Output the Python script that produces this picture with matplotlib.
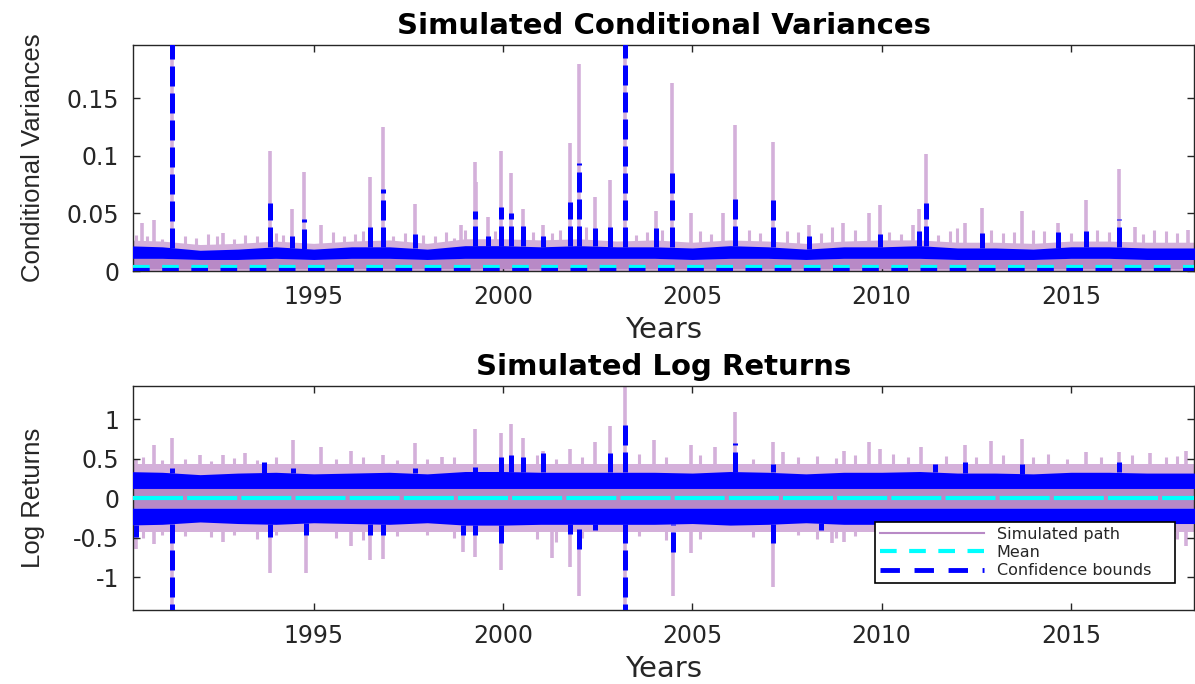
import numpy as np
import matplotlib
matplotlib.use("Agg")
import matplotlib.pyplot as plt
from matplotlib.lines import Line2D

# ---- data ----
band_years = np.arange(1990, 2020)

# conditional variances: dense band (per year)
var_blue_top = [0.022, 0.021, 0.018, 0.019, 0.021, 0.019, 0.021, 0.021, 0.019, 0.022,
                0.022, 0.021, 0.022, 0.021, 0.021, 0.020, 0.022, 0.021, 0.019, 0.021,
                0.021, 0.022, 0.020, 0.020, 0.019, 0.021, 0.021, 0.020, 0.020, 0.020]
var_blue_bot = [0.011, 0.011, 0.010, 0.010, 0.011, 0.010, 0.011, 0.011, 0.010, 0.011,
                0.011, 0.011, 0.011, 0.011, 0.011, 0.010, 0.011, 0.011, 0.010, 0.011,
                0.011, 0.011, 0.010, 0.010, 0.010, 0.011, 0.011, 0.010, 0.010, 0.010]
var_halo_top = [0.027, 0.026, 0.023, 0.024, 0.026, 0.024, 0.026, 0.027, 0.024, 0.028,
                0.028, 0.027, 0.028, 0.026, 0.027, 0.025, 0.027, 0.026, 0.024, 0.026,
                0.027, 0.027, 0.025, 0.025, 0.024, 0.026, 0.026, 0.025, 0.025, 0.025]
var_mean = 0.0036
var_lower = 0.0013

var_path_years = [1990.46, 1990.78, 1991.25, 1992.6, 1993.84, 1994.43, 1994.74, 1995.2,
                  1996.5, 1996.83, 1997.67, 1998.9, 1999.25, 1999.3, 1999.6, 1999.96,
                  2000.22, 2000.53, 2001.05, 2001.76, 2002.02, 2002.42, 2002.83, 2003.23,
                  2004.04, 2004.47, 2004.97, 2005.8, 2006.13, 2007.12, 2008.09, 2008.97,
                  2009.67, 2009.96, 2010.83, 2010.99, 2011.17, 2012.2, 2012.66, 2013.7,
                  2014.65, 2015.4, 2016.26, 2016.7, 2018.1]
var_path_vals = [0.042, 0.044, 0.30, 0.033, 0.104, 0.054, 0.086, 0.040,
                 0.082, 0.125, 0.058, 0.040, 0.095, 0.077, 0.047, 0.104,
                 0.085, 0.054, 0.040, 0.111, 0.180, 0.064, 0.079, 0.30,
                 0.052, 0.163, 0.050, 0.050, 0.127, 0.112, 0.040, 0.042,
                 0.050, 0.057, 0.040, 0.054, 0.102, 0.042, 0.055, 0.052,
                 0.042, 0.062, 0.089, 0.038, 0.036]
var_bound_years = [1991.25, 1993.84, 1994.43, 1994.74, 1996.5, 1996.83, 1997.67, 1999.25,
                   1999.6, 1999.96, 2000.22, 2000.53, 2001.05, 2001.76, 2002.02, 2002.42,
                   2002.83, 2003.23, 2004.04, 2004.47, 2006.13, 2007.12, 2008.09, 2009.96,
                   2010.99, 2011.17, 2012.66, 2014.65, 2015.4, 2016.26]
var_bound_vals = [0.30, 0.059, 0.030, 0.045, 0.040, 0.071, 0.032, 0.052,
                  0.030, 0.056, 0.050, 0.041, 0.030, 0.060, 0.094, 0.037,
                  0.044, 0.30, 0.037, 0.085, 0.066, 0.062, 0.030, 0.032,
                  0.035, 0.059, 0.033, 0.034, 0.035, 0.045]
var_minor_years = [1990.3, 1990.6, 1991.0, 1991.6, 1991.9, 1992.2, 1992.45, 1992.9, 1993.2,
                   1993.5, 1994.0, 1994.2, 1995.5, 1995.8, 1996.1, 1996.3, 1997.1, 1997.4,
                   1997.9, 1998.2, 1998.5, 1998.7, 1999.0, 1999.8, 2000.8, 2001.3, 2001.5,
                   2002.2, 2003.5, 2003.8, 2004.2, 2005.2, 2005.5, 2006.5, 2006.8, 2007.5,
                   2007.8, 2008.4, 2008.7, 2009.3, 2010.2, 2010.5, 2011.5, 2011.8, 2012.0,
                   2012.9, 2013.2, 2013.5, 2014.0, 2014.3, 2015.0, 2015.7, 2016.0, 2016.9,
                   2017.2, 2017.5, 2017.8]
var_minor_vals = [0.031, 0.030, 0.028, 0.030, 0.029, 0.032, 0.030, 0.028, 0.031,
                  0.030, 0.033, 0.031, 0.034, 0.030, 0.032, 0.035, 0.030, 0.033,
                  0.031, 0.030, 0.034, 0.029, 0.036, 0.035, 0.034, 0.033, 0.036,
                  0.038, 0.031, 0.034, 0.036, 0.035, 0.032, 0.036, 0.033, 0.035,
                  0.034, 0.033, 0.038, 0.036, 0.034, 0.032, 0.031, 0.035, 0.037,
                  0.036, 0.033, 0.034, 0.036, 0.035, 0.033, 0.036, 0.034, 0.032,
                  0.036, 0.035, 0.033]

# log returns: dense band (per year)
ret_blue_up = [0.34, 0.33, 0.30, 0.32, 0.33, 0.31, 0.32, 0.33, 0.31, 0.34,
               0.34, 0.33, 0.33, 0.33, 0.33, 0.32, 0.34, 0.33, 0.31, 0.33,
               0.33, 0.34, 0.32, 0.32, 0.31, 0.33, 0.33, 0.32, 0.32, 0.32]
ret_blue_dn = [-0.34, -0.33, -0.30, -0.32, -0.33, -0.31, -0.32, -0.33, -0.31, -0.34,
               -0.34, -0.33, -0.33, -0.33, -0.33, -0.32, -0.34, -0.33, -0.31, -0.33,
               -0.33, -0.34, -0.32, -0.32, -0.31, -0.33, -0.33, -0.32, -0.32, -0.32]
ret_core = 0.125
ret_halo = 0.43
ret_mean = 0.0

ret_up_years = [1990.3, 1990.78, 1991.25, 1992.0, 1992.6, 1993.2, 1994.46, 1995.2, 1996.0,
                1996.83, 1997.67, 1998.4, 1999.25, 1999.96, 2000.22, 2000.53, 2001.07,
                2001.76, 2002.42, 2002.83, 2003.23, 2004.0, 2004.97, 2005.6, 2006.14,
                2007.12, 2007.4, 2009.0, 2009.67, 2009.96, 2011.04, 2012.2, 2012.9,
                2013.7, 2015.4, 2016.26, 2017.1, 2018.05]
ret_up_vals = [0.50, 0.67, 0.76, 0.55, 0.55, 0.58, 0.74, 0.65, 0.60,
               0.55, 0.70, 0.53, 0.876, 0.83, 0.94, 0.77, 0.60,
               0.63, 0.72, 0.92, 1.6, 0.74, 0.67, 0.65, 1.10,
               0.72, 0.59, 0.60, 0.72, 0.63, 0.65, 0.67, 0.73,
               0.75, 0.59, 0.59, 0.57, 0.60]
ret_upb_years = [1991.25, 1993.7, 1994.46, 1997.67, 1999.25, 1999.96, 2000.22, 2000.53,
                 2001.07, 2002.83, 2003.23, 2006.14, 2007.12, 2011.4, 2012.2, 2013.7, 2016.26]
ret_upb_vals = [0.38, 0.46, 0.38, 0.38, 0.40, 0.53, 0.55, 0.53,
                0.57, 0.57, 0.99, 0.70, 0.44, 0.44, 0.46, 0.44, 0.46]
ret_dn_years = [1990.3, 1990.78, 1991.25, 1992.6, 1993.84, 1994.79, 1996.0, 1996.5, 1996.83,
                1998.94, 1999.25, 1999.96, 2001.3, 2001.76, 2002.02, 2003.23, 2004.48,
                2004.97, 2007.12, 2008.7, 2009.0, 2018.05]
ret_dn_vals = [-0.64, -0.58, -1.6, -0.55, -0.944, -0.944, -0.60, -0.78, -0.775,
               -0.68, -0.74, -0.91, -0.76, -0.87, -1.24, -1.6, -1.24,
               -0.70, -1.12, -0.57, -0.55, -0.60]
ret_dnb_years = [1990.3, 1991.25, 1993.84, 1994.79, 1996.5, 1996.83, 1998.94, 1999.25,
                 1999.96, 2001.76, 2002.02, 2002.42, 2003.23, 2004.48, 2007.12, 2008.4]
ret_dnb_vals = [-0.49, -1.6, -0.49, -0.47, -0.47, -0.47, -0.46, -0.47,
                -0.57, -0.45, -0.64, -0.40, -1.6, -0.68, -0.57, -0.40]
ret_minor_years = [1990.5, 1991.0, 1991.6, 1992.3, 1992.9, 1993.5, 1994.0, 1995.6, 1996.3,
                   1997.2, 1998.0, 1998.7, 2000.9, 2001.4, 2002.1, 2003.6, 2004.3, 2005.2,
                   2006.6, 2007.8, 2008.3, 2008.8, 2009.3, 2010.3, 2010.7, 2011.7, 2012.5,
                   2013.2, 2014.0, 2014.4, 2014.9, 2015.8, 2016.6, 2017.5, 2017.8]
ret_minor_up = [0.52, 0.48, 0.50, 0.47, 0.51, 0.49, 0.53, 0.50, 0.52,
                0.48, 0.50, 0.52, 0.55, 0.50, 0.53, 0.56, 0.52, 0.55,
                0.50, 0.52, 0.54, 0.51, 0.55, 0.56, 0.52, 0.54, 0.53,
                0.55, 0.52, 0.56, 0.50, 0.53, 0.55, 0.52, 0.54]
ret_minor_dn = [-0.50, -0.46, -0.48, -0.49, -0.46, -0.52, -0.47, -0.50, -0.53,
                -0.48, -0.47, -0.50, -0.52, -0.55, -0.50, -0.48, -0.53, -0.51,
                -0.49, -0.47, -0.52, -0.50, -0.48, -0.46, -0.50, -0.48, -0.47,
                -0.49, -0.46, -0.48, -0.47, -0.50, -0.46, -0.49, -0.52]

x_ticks = [1995, 2000, 2005, 2010, 2015]

# ---- styles ----
PURPLE = '#b889c6'
PURPLE_LIGHT = '#d4b0da'
BLUE = '#0000ff'
CYAN = '#00ffff'
DARK = '#262626'
DASH = (0, (4, 1.4))

plt.rcParams['font.family'] = 'DejaVu Sans'

fig = plt.figure(figsize=(11.95, 6.84), dpi=100)
ax1 = fig.add_axes([0.1113, 0.6038, 0.8879, 0.3304])
ax2 = fig.add_axes([0.1113, 0.1082, 0.8879, 0.3275])

# ---- top: conditional variances ----
ax1.fill_between(band_years, 0, var_halo_top, color=PURPLE_LIGHT, lw=0, zorder=1)
ax1.vlines(var_minor_years, 0, var_minor_vals, color=PURPLE_LIGHT, lw=2.2, zorder=1)
ax1.vlines(var_path_years, 0, var_path_vals, color=PURPLE_LIGHT, lw=2.6, zorder=1)
ax1.fill_between(band_years, 0.002, var_blue_bot, color=PURPLE, lw=0, zorder=2)
ax1.fill_between(band_years, var_blue_bot, var_blue_top, color=BLUE, lw=0, zorder=3)
ax1.vlines(var_bound_years, np.interp(var_bound_years, band_years, var_blue_top),
           var_bound_vals, color=BLUE, lw=3.6, linestyles=DASH, zorder=4)
ax1.axhline(var_mean, color=CYAN, lw=3, ls=(0, (4, 3)), zorder=5)
ax1.axhline(var_lower, color=BLUE, lw=3, ls=(0, (4, 3)), zorder=5)
ax1.set_ylim(0, 0.1963)
ax1.set_yticks([0, 0.05, 0.1, 0.15])
ax1.set_yticklabels(['0', '0.05', '0.1', '0.15'])
ax1.set_title('Simulated Conditional Variances', fontsize=21, fontweight='bold', pad=8)
ax1.set_ylabel('Conditional Variances', family='Liberation Sans', fontsize=18.5, color=DARK)
ax1.yaxis.set_label_coords(-0.083, 0.5)

# ---- bottom: log returns ----
ax2.fill_between(band_years, -ret_halo, ret_halo, color=PURPLE_LIGHT, lw=0, zorder=1)
ax2.vlines(ret_minor_years, 0, ret_minor_up, color=PURPLE_LIGHT, lw=2.2, zorder=1)
ax2.vlines(ret_minor_years, ret_minor_dn, 0, color=PURPLE_LIGHT, lw=2.2, zorder=1)
ax2.vlines(ret_up_years, 0, ret_up_vals, color=PURPLE_LIGHT, lw=2.6, zorder=1)
ax2.vlines(ret_dn_years, ret_dn_vals, 0, color=PURPLE_LIGHT, lw=2.6, zorder=1)
ax2.fill_between(band_years, -ret_core, ret_core, color=PURPLE, lw=0, zorder=2)
ax2.fill_between(band_years, ret_core, ret_blue_up, color=BLUE, lw=0, zorder=3)
ax2.fill_between(band_years, ret_blue_dn, -ret_core, color=BLUE, lw=0, zorder=3)
ax2.vlines(ret_upb_years, np.interp(ret_upb_years, band_years, ret_blue_up),
           ret_upb_vals, color=BLUE, lw=3.6, linestyles=DASH, zorder=4)
ax2.vlines(ret_dnb_years, ret_dnb_vals, np.interp(ret_dnb_years, band_years, ret_blue_dn),
           color=BLUE, lw=3.6, linestyles=DASH, zorder=4)
ax2.axhline(ret_mean, color=CYAN, lw=3, ls=(0, (12, 1)), zorder=5)
ax2.set_ylim(-1.417, 1.425)
ax2.set_yticks([-1, -0.5, 0, 0.5, 1])
ax2.set_yticklabels(['-1', '-0.5', '0', '0.5', '1'])
ax2.set_title('Simulated Log Returns', fontsize=21, fontweight='bold', pad=8)
ax2.set_ylabel('Log Returns', family='Liberation Sans', fontsize=18.5, color=DARK)
ax2.yaxis.set_label_coords(-0.083, 0.5)

handles = [Line2D([], [], color=PURPLE, lw=1.5),
           Line2D([], [], color=CYAN, lw=3, ls=(0, (4, 3))),
           Line2D([], [], color=BLUE, lw=3.5, ls=(0, (4, 3)))]
leg = ax2.legend(handles, ['Simulated path', 'Mean', 'Confidence bounds'],
                 loc='lower left', bbox_to_anchor=(0.692, 0.085, 0.298, 0.303),
                 mode='expand', fontsize=11.5, handlelength=6.5, labelspacing=0.2,
                 borderpad=0.3, handletextpad=0.8, fancybox=False, framealpha=1,
                 edgecolor='black', labelcolor=DARK)
leg.get_frame().set_linewidth(1.2)
leg.set_zorder(10)

for ax in (ax1, ax2):
    ax.set_xlim(1990.23, 2018.25)
    ax.set_xticks(x_ticks)
    ax.set_xlabel('Years', fontsize=21, color=DARK, labelpad=5)
    ax.tick_params(direction='in', top=True, right=True, length=5, width=1,
                   colors=DARK, labelsize=17, pad=10)
    for s in ax.spines.values():
        s.set_color(DARK)
        s.set_linewidth(1)

fig.savefig('out.png', dpi=100)
